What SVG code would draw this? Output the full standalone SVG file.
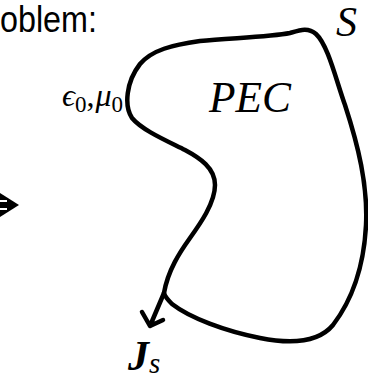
<svg xmlns="http://www.w3.org/2000/svg" width="368" height="382" viewBox="0 0 368 382">
<style>
.ln{fill:none;stroke:#000;stroke-width:4.5;stroke-linecap:round;stroke-linejoin:round}
.sans{font-family:"Liberation Sans","Open Sans",sans-serif;fill:#000}
.m{font-family:"Liberation Serif","DejaVu Serif",serif;font-style:italic;fill:#000}
.r{font-family:"Liberation Serif","DejaVu Serif",serif;fill:#000}
</style>
<g id="title"><text class="sans" x="0" y="32" font-size="37" textLength="97" lengthAdjust="spacingAndGlyphs">oblem:</text></g>
<g id="medium"><text x="62" y="106" font-size="32"><tspan class="m">ϵ</tspan><tspan class="r" font-size="23" dy="6">0</tspan><tspan class="r" dy="-6">,</tspan><tspan class="m" dx="1">μ</tspan><tspan class="r" font-size="23" dy="6">0</tspan></text></g>
<g id="incident-arrow"><polygon points="0,193 19,205 0,217" fill="#000"/><path d="M0,201 L7,201 M0,209 L7,209" stroke="#fff" stroke-width="2"/></g>
<g id="pec">
<path class="ln" d="M164,293 C168,270 180,252 190,238 C200,224 215,203 215,185 C215,168 200,158 185,150 C165,140 142,130 132,118 C124,106 126,82 140,64 C152,50 172,45 200,41 C230,38 270,37 290,33 C300,30 308,27 316,34 C328,45 336,80 345,105 C358,145 368,185 366,225 C364,265 352,300 333,325 C318,343 290,344 260,338 C225,331 190,318 172,304 C168,300 165,297 164,293 Z"/>
<text class="m" x="209" y="112" font-size="44" textLength="82" lengthAdjust="spacingAndGlyphs">PEC</text>
</g>
<g id="surface-label"><text class="m" x="336" y="36" font-size="42">S</text></g>
<g id="connectors"><path class="ln" d="M164,293 L150,326 M142,312 L150,326 L163,320"/></g>
<g id="current-label"><text x="128" y="370" font-size="42"><tspan class="m" font-weight="bold">J</tspan><tspan class="m" font-size="29" dy="3">s</tspan></text></g>
</svg>
